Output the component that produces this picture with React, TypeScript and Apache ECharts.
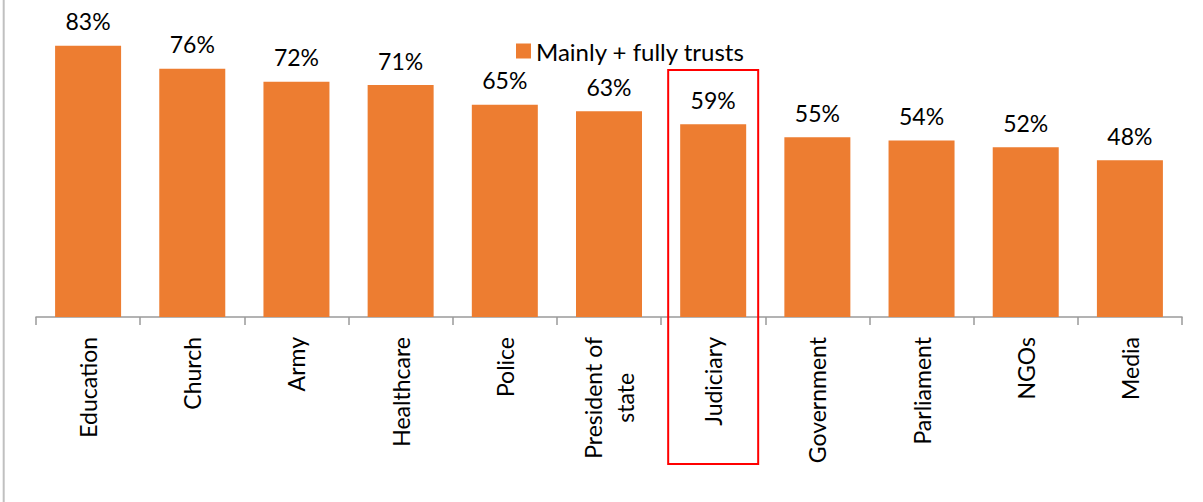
import React, { useEffect, useRef } from "react";
import * as echarts from "echarts";

const categories = [
  "Education",
  "Church",
  "Army",
  "Healthcare",
  "Police",
  "President of\nstate",
  "Judiciary",
  "Government",
  "Parliament",
  "NGOs",
  "Media",
];
const values = [83, 76, 72, 71, 65, 63, 59, 55, 54, 52, 48];
const seriesName = "Mainly + fully trusts";
const highlighted = "Judiciary";

const FONT = "Lato, 'Open Sans', sans-serif";

export default function App() {
  const ref = useRef<HTMLDivElement>(null);
  useEffect(() => {
    if (!ref.current) return;
    const chart = echarts.init(ref.current, undefined, { renderer: "svg" });
    chart.setOption({
      animation: false,
      textStyle: { fontFamily: FONT },
      grid: { left: 36, right: 21, top: 23, bottom: 185, containLabel: false },
      legend: {
        data: [seriesName],
        left: 511,
        top: 34,
        itemWidth: 15,
        itemHeight: 15,
        itemGap: 6,
        icon: "rect",
        textStyle: { fontSize: 24, color: "#000", fontFamily: FONT },
      },
      xAxis: {
        type: "category",
        data: categories,
        axisLine: { lineStyle: { color: "#9a9a9a", width: 1.5 } },
        axisTick: { show: true, length: 8, lineStyle: { color: "#9a9a9a", width: 1.5 } },
        axisLabel: {
          rotate: 90,
          margin: 20,
          fontSize: 23,
          lineHeight: 32,
          color: "#000",
          fontFamily: FONT,
          interval: 0,
          formatter: (v: string) =>
            v
              .split("\n")
              .map((s) => `{c|${s}}`)
              .join("\n"),
          rich: {
            c: {
              fontSize: 23,
              lineHeight: 32,
              color: "#000",
              fontFamily: FONT,
              align: "center",
            },
          },
        },
      },
      yAxis: {
        type: "value",
        min: 0,
        max: 90,
        show: false,
        splitLine: { show: false },
      },
      series: [
        {
          name: seriesName,
          type: "bar",
          data: values,
          barWidth: 66,
          itemStyle: { color: "#ED7D31" },
          label: {
            show: true,
            position: "top",
            distance: 13,
            formatter: "{c}%",
            fontSize: 23,
            color: "#000",
            fontFamily: FONT,
          },
        },
      ],
    });
    const cx = chart.convertToPixel({ xAxisIndex: 0 }, highlighted) as number;
    chart.setOption({
      graphic: [
        {
          type: "line",
          shape: { x1: 3.7, y1: 0, x2: 3.7, y2: 502 },
          style: { stroke: "#c0c0c0", lineWidth: 2 },
        },
        {
          type: "rect",
          shape: { x: cx - 45, y: 70, width: 90, height: 394 },
          style: { fill: "none", stroke: "#ff0000", lineWidth: 2 },
          z: 100,
        },
      ],
    });
    return () => chart.dispose();
  }, []);
  return (
    <div
      ref={ref}
      style={{ position: "fixed", left: 0, top: 0, width: 1203, height: 502, background: "#fff" }}
    />
  );
}
